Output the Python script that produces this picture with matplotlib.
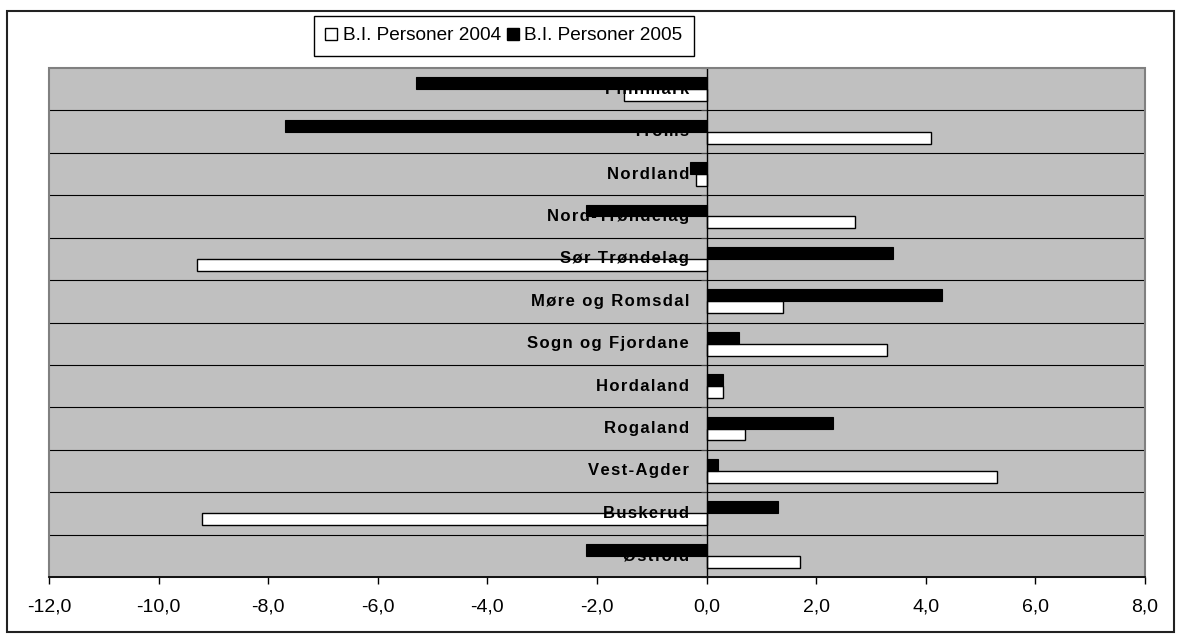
import matplotlib
matplotlib.use("Agg")
import matplotlib.pyplot as plt
from matplotlib.patches import Rectangle, Patch
from matplotlib.ticker import FuncFormatter, FixedLocator
import numpy as np

# ---- data (bottom to top) ----
categories = ["Østfold", "Buskerud", "Vest-Agder", "Rogaland", "Hordaland",
              "Sogn og Fjordane", "Møre og Romsdal", "Sør Trøndelag",
              "Nord-Trøndelag", "Nordland", "Troms", "Finnmark"]
persons_2004 = [1.7, -9.2, 5.3, 0.7, 0.3, 3.3, 1.4, -9.3, 2.7, -0.2, 4.1, -1.5]
persons_2005 = [-2.2, 1.3, 0.2, 2.3, 0.3, 0.6, 4.3, 3.4, -2.2, -0.3, -7.7, -5.3]
series_labels = ["B.I. Personer 2004", "B.I. Personer 2005"]
x_ticks = [-12, -10, -8, -6, -4, -2, 0, 2, 4, 6, 8]

W, H = 1182, 634
fig = plt.figure(figsize=(W / 100, H / 100), dpi=100)
fig.patch.set_facecolor("white")

# outer chart frame
fig.add_artist(Rectangle((7 / W, 1 - 632 / H), (1174 - 7) / W, (632 - 11) / H,
                         transform=fig.transFigure, fill=False,
                         edgecolor="#222222", linewidth=1.5))

ax = fig.add_axes([49 / W, 1 - 577 / H, (1145 - 49) / W, (577 - 68) / H])
ax.set_facecolor("#c0c0c0")

y = np.arange(len(categories))
h = 0.28
ax.barh(y - h / 2, persons_2004, height=h, color="white", edgecolor="black",
        linewidth=1.0, zorder=3)
ax.barh(y + h / 2, persons_2005, height=h, color="black", edgecolor="black",
        linewidth=0.8, zorder=3)

ax.set_xlim(-12, 8)
ax.set_ylim(-0.5, len(categories) - 0.5)

# horizontal gridlines at category boundaries
for b in np.arange(0.5, len(categories) - 0.5, 1.0):
    ax.axhline(b, color="black", linewidth=0.8, zorder=1)

# spines
for s in ["top", "right", "bottom"]:
    ax.spines[s].set_visible(False)
ax.spines["left"].set_position(("data", 0))
ax.spines["left"].set_color("black")
ax.spines["left"].set_linewidth(1.0)
ax.spines["left"].set_zorder(4)
ax.add_patch(Rectangle((0, 0), 1, 1, transform=ax.transAxes, fill=False,
                       edgecolor="#808080", linewidth=1.5, zorder=5, clip_on=False))
ax.plot([0, 1], [0, 0], transform=ax.transAxes, color="black", linewidth=1.2,
        zorder=6, clip_on=False)

# y ticks at category boundaries, no labels
ax.yaxis.set_major_locator(FixedLocator(np.arange(-0.5, len(categories), 1.0)))
ax.tick_params(axis="y", which="major", direction="out", length=4, width=0.8,
               labelleft=False, color="#404040")

# x ticks
ax.set_xticks(x_ticks)
ax.xaxis.set_major_formatter(FuncFormatter(lambda v, p: f"{v:.1f}".replace(".", ",")))
ax.tick_params(axis="x", direction="out", length=5, width=1.0, pad=10.5,
               labelsize=14, color="black")
for lbl in ax.get_xticklabels():
    lbl.set_fontfamily(["Liberation Sans", "DejaVu Sans"])

# category labels next to the zero axis (letter-spaced like the original)
HAIR = "\u200a"
for yi, name in zip(y, categories):
    spaced = HAIR.join(name)
    ax.annotate(spaced, xy=(0, yi), xytext=(-12.5, 0), textcoords="offset points",
                ha="right", va="center", fontsize=12, fontweight="bold",
                family=["Liberation Sans", "DejaVu Sans"], zorder=4)

# legend
handles = [Patch(facecolor="white", edgecolor="black", linewidth=1.0),
           Patch(facecolor="black", edgecolor="black", linewidth=1.0)]
leg = fig.legend(handles, series_labels, loc="upper left",
                 bbox_to_anchor=(314 / W, 1 - 16 / H), ncol=2, frameon=True,
                 fancybox=False, edgecolor="black", framealpha=1,
                 prop={"family": ["Liberation Sans", "DejaVu Sans"], "size": 13.7},
                 handlelength=0.6, handleheight=0.6, handletextpad=0.3,
                 columnspacing=0.35, borderpad=0.6, borderaxespad=0)
leg.get_frame().set_linewidth(1.0)

fig.savefig("out.png", dpi=100)
